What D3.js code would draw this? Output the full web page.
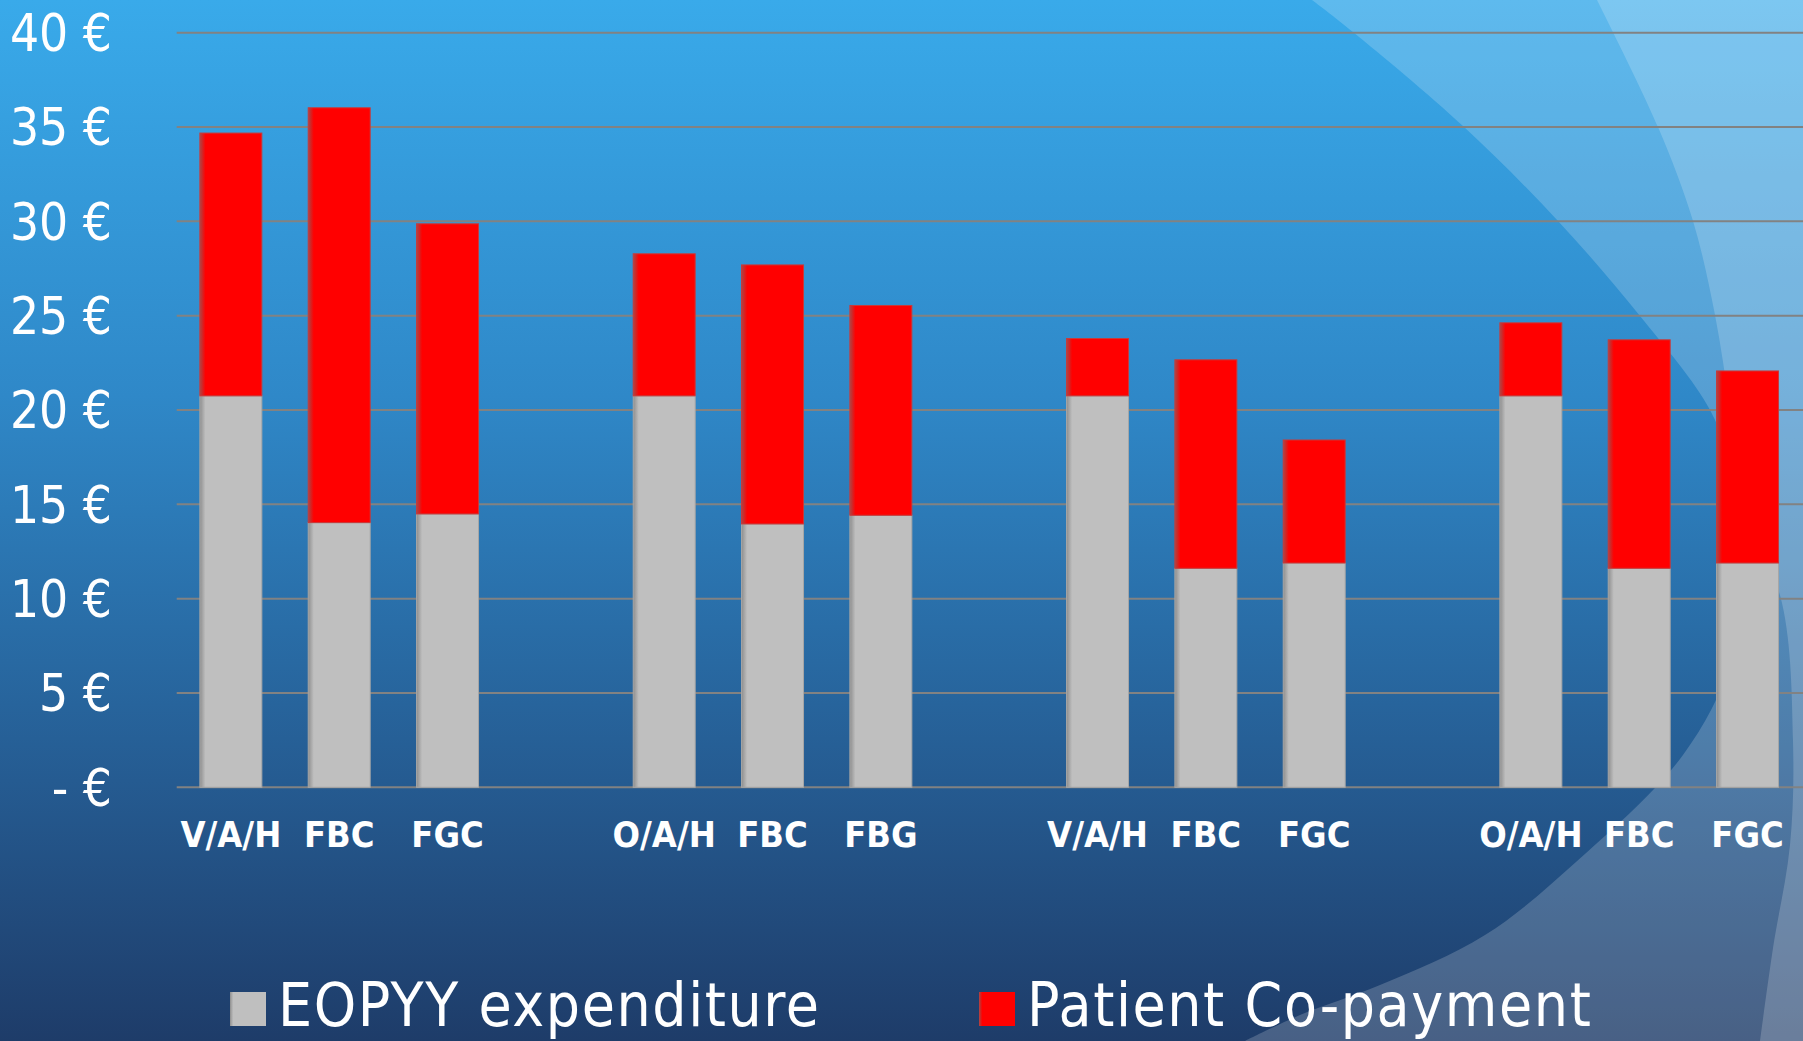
<!DOCTYPE html>
<html>
<head>
<meta charset="utf-8">
<script src="https://cdn.jsdelivr.net/npm/d3@7"></script>
<style>
    body { margin: 0; overflow: hidden; background: #1e3d6b; }
</style>
</head>
<body>
<div id="chart"></div>
<script>
// one slot per category, empty slots separate the four groups
const categories = ["V/A/H", "FBC", "FGC", "", "O/A/H", "FBC", "FBG", "", "V/A/H", "FBC", "FGC", "", "O/A/H", "FBC", "FGC"];
const eopyy = [20.75, 14.03, 14.49, null, 20.75, 13.96, 14.42, null, 20.75, 11.61, 11.89, null, 20.75, 11.61, 11.89];
const copayment = [13.93, 21.99, 15.38, null, 7.53, 13.73, 11.12, null, 3.04, 11.05, 6.52, null, 3.87, 12.11, 10.18];
const seriesNames = ["EOPYY expenditure", "Patient Co-payment"];
const yTicks = [0, 5, 10, 15, 20, 25, 30, 35, 40];

// light arcs of the slide background (decoration only)
const arcOuter = [[1312, 0], [1353, 32], [1463, 126], [1558, 221], [1640, 316], [1710, 410], [1735, 480], [1745, 560],
    [1731, 662], [1683, 755], [1576, 862], [1485, 935], [1380, 985], [1300, 1015], [1245, 1041]];
const arcInner = [[1597, 0], [1658, 127], [1693, 221], [1715, 315], [1730, 410], [1742, 500], [1782, 603],
    [1793, 741], [1790, 845], [1773, 948], [1760, 1041]];

class CostChart {
    constructor(_config) {
        this.config = _config;
        this.initVis();
    }

    initVis() {
        const vis = this;
        vis.config.width = 1803;
        vis.config.height = 1041;
        vis.config.plot = {left: 176.7, right: 1801.7, top: 32.7, bottom: 787.3};

        vis.svg = d3.select(vis.config.parentElement)
            .append("svg")
            .attr("width", vis.config.width)
            .attr("height", vis.config.height);

        const defs = vis.svg.append("defs");
        const bg = defs.append("linearGradient")
            .attr("id", "bg").attr("x1", 0).attr("y1", 0).attr("x2", 0).attr("y2", 1);
        [[0, "#39aaea"], [0.38, "#2f88c8"], [0.75, "#255b91"], [1, "#1e3c69"]].forEach(s => {
            bg.append("stop").attr("offset", s[0]).attr("stop-color", s[1]);
        });

        vis.barFills = [
            {id: "fillGrey", dark: "#8e8e8e", base: "#bfbfbf"},
            {id: "fillRed", dark: "#a84848", base: "#ff0000"}
        ];
        vis.barFills.forEach(f => {
            const g = defs.append("linearGradient")
                .attr("id", f.id).attr("x1", 0).attr("y1", 0).attr("x2", 1).attr("y2", 0);
            g.append("stop").attr("offset", 0).attr("stop-color", f.dark);
            g.append("stop").attr("offset", 0.09).attr("stop-color", f.base);
            g.append("stop").attr("offset", 1).attr("stop-color", f.base);
        });

        vis.svg.append("rect")
            .attr("width", vis.config.width)
            .attr("height", vis.config.height)
            .attr("fill", "url(#bg)");

        const arc = d3.line().curve(d3.curveCatmullRom);
        [arcOuter, arcInner].forEach(pts => {
            vis.svg.append("path")
                .attr("d", arc(pts) + `L${vis.config.width},${vis.config.height}L${vis.config.width},0Z`)
                .attr("fill", "#ffffff")
                .attr("fill-opacity", 0.19);
        });

        vis.updateVis();
    }

    updateVis() {
        const vis = this;
        const p = vis.config.plot;

        const rows = categories.map((c, i) => ({idx: i, label: c, eopyy: eopyy[i] || 0, copay: copayment[i] || 0}));

        vis.x = d3.scaleBand()
            .domain(rows.map(d => d.idx))
            .range([p.left, p.right])
            .paddingInner(0.428)
            .paddingOuter(0.214);

        vis.y = d3.scaleLinear()
            .domain([0, 40])
            .range([p.bottom, p.top]);

        // gridlines
        vis.svg.append("g")
            .selectAll("line")
            .data(yTicks)
            .join("line")
            .attr("x1", p.left)
            .attr("x2", vis.config.width)
            .attr("y1", d => vis.y(d))
            .attr("y2", d => vis.y(d))
            .attr("stroke", "#828282")
            .attr("stroke-width", 2);

        // y tick labels
        vis.svg.append("g")
            .selectAll("text")
            .data(yTicks)
            .join("text")
            .attr("x", 112)
            .attr("y", d => vis.y(d))
            .attr("dy", "0.36em")
            .attr("text-anchor", "end")
            .attr("font-family", "'DejaVu Sans Condensed', 'DejaVu Sans', sans-serif")
            .attr("font-size", "51px")
            .attr("fill", "#ffffff")
            .text(d => d === 0 ? "- €" : `${d} €`);

        const stack = d3.stack().keys(["eopyy", "copay"]);
        const layers = stack(rows.filter(d => d.label !== ""));

        vis.svg.append("g")
            .selectAll("g")
            .data(layers)
            .join("g")
            .attr("fill", (d, i) => `url(#${vis.barFills[i].id})`)
            .attr("stroke", (d, i) => i === 0 ? "#a6a6a6" : "#c83a3a")
            .attr("stroke-width", 1)
            .selectAll("rect")
            .data(d => d)
            .join("rect")
            .attr("x", d => vis.x(d.data.idx))
            .attr("width", vis.x.bandwidth())
            .attr("y", d => vis.y(d[1]))
            .attr("height", d => vis.y(d[0]) - vis.y(d[1]));

        // category labels
        vis.svg.append("g")
            .selectAll("text")
            .data(rows.filter(d => d.label !== ""))
            .join("text")
            .attr("x", d => vis.x(d.idx) + vis.x.bandwidth() / 2)
            .attr("y", 847)
            .attr("text-anchor", "middle")
            .attr("font-family", "'DejaVu Sans Condensed', 'DejaVu Sans', sans-serif")
            .attr("font-weight", "bold")
            .attr("font-size", "36px")
            .attr("fill", "#ffffff")
            .text(d => d.label);

        // legend
        const legendX = [230, 979];
        const legend = vis.svg.append("g")
            .selectAll("g")
            .data(seriesNames)
            .join("g")
            .attr("transform", (d, i) => `translate(${legendX[i]},992)`);

        legend.append("rect")
            .attr("width", 36)
            .attr("height", 34)
            .attr("fill", (d, i) => `url(#${vis.barFills[i].id})`);

        legend.append("text")
            .attr("x", 48)
            .attr("y", 34)
            .attr("font-family", "'DejaVu Sans Condensed', 'DejaVu Sans', sans-serif")
            .attr("font-size", "60px")
            .attr("letter-spacing", "1.6px")
            .attr("fill", "#ffffff")
            .text(d => d);
    }
}

new CostChart({parentElement: "#chart"});
</script>
</body>
</html>
